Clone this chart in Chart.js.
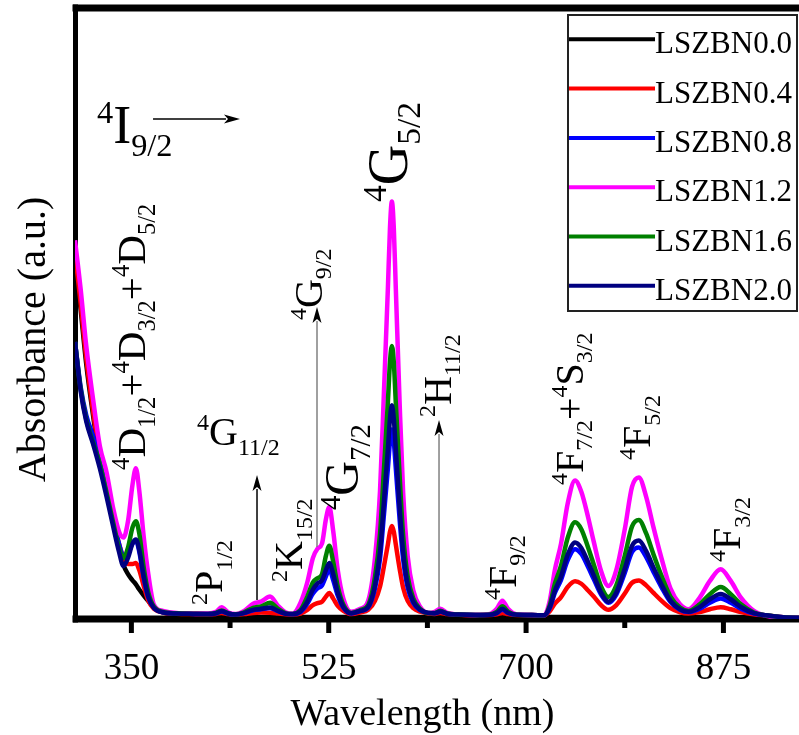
<!DOCTYPE html>
<html>
<head>
<meta charset="utf-8">
<script src="https://cdn.jsdelivr.net/npm/chart.js@4.4.1/dist/chart.umd.min.js"></script>
<style>
html,body{margin:0;padding:0;background:#fff;overflow:hidden;}
canvas{display:block;}
</style>
</head>
<body>
<canvas id="c" width="812" height="735"></canvas>
<script>
// ---------- DATA ----------
const wavelength = [
  300,305,310,316,322,328,334,339,343,347,351,354,357,361,365,370,378,390,
  405,418,425,430,436,442,450,458,465,473,480,487,493,
  500,506,511,515,519,522.5,525.5,529,533,538,545,
  553,560,566,570.5,574,577.5,579.3,581,582.7,584.5,588,591,595,600,606,613,
  619,624,630,640,655,668,674,679,684,692,705,
  716,721,725.5,731,737,743.4,749,755,760,766.5,773,780,787.5,794,800,806.5,813,820,828,836.5,844,854,863,872.6,881.5,890.5,902,913,925,937,950
];
const lszbn00 = [
  1.78,1.52,1.25,1.00,0.78,0.62,0.47,0.35,0.265,0.22,0.19,0.17,0.145,0.115,0.088,0.058,0.032,0.02,
  0.012,0.01,0.01,0.01,0.01,0.01,0.01,0.01,0.01,0.01,0.01,0.01,0.01,
  0.01,0.01,0.01,0.01,0.01,0.01,0.01,0.01,0.01,0.01,0.01,
  0.01,0.01,0.01,0.01,0.01,0.01,0.01,0.01,0.01,0.01,0.01,0.01,0.01,0.01,0.01,0.01,
  0.01,0.01,0.01,0.01,0.01,0.01,0.01,0.01,0.01,0.01,0.01,
  0.01,0.01,0.01,0.01,0.01,0.01,0.01,0.01,0.01,0.01,0.01,0.01,0.01,0.01,0.01,0.01,0.01,0.01,0.01,0.01,0.01,0.01,0.01,0.01,0.01,0.01,0.008,0.006,0.005,0.004,0.004
];
const lszbn04 = [
  1.80,1.55,1.28,1.02,0.80,0.64,0.48,0.37,0.30,0.27,0.27,0.275,0.24,0.16,0.09,0.05,0.032,0.026,
  0.024,0.023,0.025,0.03,0.024,0.021,0.024,0.03,0.032,0.031,0.027,0.023,0.022,
  0.027,0.045,0.068,0.078,0.085,0.11,0.128,0.10,0.065,0.04,0.024,
  0.032,0.045,0.09,0.16,0.26,0.368,0.429,0.457,0.429,0.365,0.243,0.154,0.089,0.053,0.036,0.028,
  0.025,0.03,0.024,0.021,0.02,0.02,0.023,0.03,0.024,0.02,0.02,
  0.018,0.038,0.075,0.108,0.158,0.185,0.173,0.14,0.11,0.068,0.045,0.068,0.125,0.178,0.189,0.165,0.128,0.09,0.053,0.033,0.027,0.034,0.048,0.058,0.048,0.034,0.023,0.017,0.01,0.006,0.005
];
const lszbn08 = [
  1.36,1.14,1.00,0.90,0.79,0.66,0.50,0.37,0.31,0.32,0.37,0.385,0.33,0.20,0.105,0.055,0.033,0.027,
  0.025,0.024,0.028,0.037,0.026,0.022,0.029,0.043,0.048,0.054,0.038,0.025,0.023,
  0.035,0.075,0.125,0.15,0.165,0.21,0.245,0.19,0.115,0.055,0.027,
  0.039,0.057,0.15,0.297,0.515,0.742,0.871,0.93,0.871,0.738,0.479,0.293,0.155,0.079,0.043,0.03,
  0.028,0.036,0.026,0.022,0.02,0.021,0.029,0.046,0.03,0.021,0.02,
  0.018,0.054,0.128,0.192,0.29,0.343,0.319,0.255,0.196,0.12,0.08,0.12,0.226,0.329,0.351,0.304,0.231,0.157,0.084,0.045,0.034,0.051,0.08,0.101,0.08,0.051,0.027,0.018,0.01,0.006,0.005
];
const lszbn12 = [
  1.86,1.62,1.34,1.08,0.85,0.72,0.54,0.43,0.40,0.48,0.66,0.74,0.63,0.40,0.22,0.07,0.04,0.03,
  0.028,0.027,0.035,0.058,0.032,0.024,0.04,0.075,0.085,0.11,0.065,0.032,0.026,
  0.08,0.18,0.30,0.345,0.37,0.49,0.55,0.43,0.24,0.10,0.035,
  0.05,0.09,0.30,0.63,1.12,1.63,1.92,2.05,1.92,1.62,1.04,0.62,0.31,0.14,0.06,0.03,
  0.035,0.05,0.03,0.022,0.02,0.025,0.05,0.09,0.05,0.022,0.02,
  0.018,0.09,0.24,0.37,0.57,0.68,0.625,0.50,0.38,0.236,0.162,0.24,0.44,0.65,0.695,0.60,0.45,0.30,0.15,0.072,0.048,0.105,0.187,0.244,0.187,0.105,0.04,0.016,0.01,0.006,0.005
];
const lszbn16 = [
  1.36,1.13,0.98,0.87,0.76,0.62,0.47,0.35,0.30,0.35,0.45,0.48,0.42,0.25,0.13,0.06,0.035,0.028,
  0.026,0.025,0.03,0.042,0.028,0.023,0.033,0.055,0.062,0.08,0.05,0.028,0.025,
  0.045,0.11,0.18,0.20,0.22,0.31,0.36,0.28,0.16,0.07,0.03,
  0.044,0.069,0.206,0.42,0.74,1.07,1.26,1.34,1.26,1.06,0.69,0.41,0.21,0.10,0.05,0.03,
  0.03,0.04,0.027,0.022,0.02,0.022,0.035,0.062,0.036,0.021,0.02,
  0.018,0.068,0.172,0.262,0.40,0.475,0.441,0.351,0.268,0.16,0.108,0.165,0.31,0.455,0.486,0.42,0.317,0.213,0.11,0.056,0.039,0.072,0.122,0.157,0.122,0.072,0.032,0.018,0.01,0.006,0.005
];
const lszbn20 = [
  1.36,1.12,0.97,0.86,0.74,0.60,0.45,0.33,0.26,0.30,0.37,0.39,0.34,0.21,0.11,0.055,0.033,0.027,
  0.025,0.024,0.028,0.038,0.027,0.022,0.03,0.045,0.05,0.057,0.04,0.026,0.024,
  0.038,0.085,0.145,0.175,0.19,0.24,0.275,0.22,0.13,0.06,0.028,
  0.04,0.06,0.166,0.333,0.58,0.838,0.984,1.05,0.984,0.833,0.54,0.328,0.171,0.086,0.045,0.03,
  0.028,0.037,0.026,0.022,0.02,0.021,0.03,0.05,0.031,0.021,0.02,
  0.018,0.058,0.139,0.209,0.317,0.376,0.349,0.279,0.214,0.13,0.085,0.13,0.247,0.36,0.385,0.333,0.252,0.171,0.09,0.048,0.035,0.059,0.097,0.123,0.097,0.059,0.029,0.018,0.01,0.006,0.005
];
const seriesNames = ['LSZBN0.0','LSZBN0.4','LSZBN0.8','LSZBN1.2','LSZBN1.6','LSZBN2.0'];
const seriesValues = [lszbn00, lszbn04, lszbn08, lszbn12, lszbn16, lszbn20];
const seriesColors = ['#000000','#ff0000','#0000ff','#ff00ff','#008000','#000080'];
const xTickValues = [350, 437.5, 525, 612.5, 700, 787.5, 875];
const xTickLabels = ['350', '', '525', '', '700', '', '875'];
const xTitle = 'Wavelength (nm)';
const yTitle = 'Absorbance (a.u.)';

// transition labels (anchor in data units: wavelength, absorbance)
const annotations = [
  { parts: [['4','sup'],['I','main'],['9/2','sub']], x: 319.5, y: 2.337, size: 54, rotate: false },
  { parts: [['4','sup'],['D','main'],['1/2','sub'],['+','main'],['4','sup'],['D','main'],['3/2','sub'],['+','main'],['4','sup'],['D','main'],['5/2','sub']], x: 362.1, y: 0.732, size: 41, rotate: true },
  { parts: [['4','sup'],['G','main'],['11/2','sub']], x: 408.2, y: 0.854, size: 40, rotate: false },
  { parts: [['2','sup'],['P','main'],['1/2','sub']], x: 430.4, y: 0.069, size: 40, rotate: true },
  { parts: [['2','sup'],['K','main'],['15/2','sub']], x: 501.3, y: 0.182, size: 40, rotate: true },
  { parts: [['4','sup'],['G','main'],['7/2','sub']], x: 551, y: 0.535, size: 48, rotate: true },
  { parts: [['4','sup'],['G','main'],['9/2','sub']], x: 518.6, y: 1.468, size: 40, rotate: true },
  { parts: [['4','sup'],['G','main'],['5/2','sub']], x: 594.4, y: 2.047, size: 56, rotate: true },
  { parts: [['2','sup'],['H','main'],['11/2','sub']], x: 633.1, y: 0.992, size: 40, rotate: true },
  { parts: [['4','sup'],['F','main'],['9/2','sub']], x: 690.7, y: 0.093, size: 40, rotate: true },
  { parts: [['4','sup'],['F','main'],['7/2','sub'],['+','main'],['4','sup'],['S','main'],['3/2','sub']], x: 750.2, y: 0.658, size: 40, rotate: true },
  { parts: [['4','sup'],['F','main'],['5/2','sub']], x: 809.9, y: 0.781, size: 40, rotate: true },
  { parts: [['4','sup'],['F','main'],['3/2','sub']], x: 889.7, y: 0.28, size: 40, rotate: true }
];
const arrows = [
  { x1: 369.2, y1: 2.455, x2: 446.3, y2: 2.455, line: '#000', head: '#000' },
  { x1: 461.4, y1: 0.093, x2: 461.4, y2: 0.707, line: '#000', head: '#000' },
  { x1: 514.6, y1: 0.354, x2: 514.6, y2: 1.532, line: '#808080', head: '#000' },
  { x1: 622.8, y1: 0.059, x2: 622.8, y2: 0.977, line: '#808080', head: '#000' }
];

// ---------- CHART ----------
const FONT = '"Liberation Serif", "Times New Roman", serif';
const datasets = seriesNames.map((name, k) => ({
  label: name,
  data: wavelength.map((w, i) => ({ x: w, y: seriesValues[k][i] })),
  borderColor: seriesColors[k],
  backgroundColor: seriesColors[k],
  borderWidth: 4.5,
  pointRadius: 0,
  fill: false,
  cubicInterpolationMode: 'monotone',
  order: seriesNames.length - k
}));

function drawRich(ctx, parts, size) {
  let x = 0;
  for (const [t, k] of parts) {
    const fs = k === 'main' ? size : size * 0.6;
    const dy = k === 'sup' ? -0.38 * size : (k === 'sub' ? 0.24 * size : 0);
    ctx.font = fs + 'px ' + FONT;
    ctx.fillText(t, x, dy);
    x += ctx.measureText(t).width;
  }
}

const deco = {
  id: 'deco',
  beforeDatasetsDraw(chart) {
    const ctx = chart.ctx, a = chart.chartArea, xs = chart.scales.x;
    ctx.save();
    ctx.strokeStyle = '#000';
    ctx.lineCap = 'butt';
    xTickValues.forEach((v, i) => {
      const px = xs.getPixelForValue(v);
      ctx.lineWidth = 5;
      ctx.beginPath();
      ctx.moveTo(px, a.bottom);
      ctx.lineTo(px, a.bottom + (xTickLabels[i] ? 14 : 9));
      ctx.stroke();
    });
    ctx.lineWidth = 7;
    ctx.beginPath(); ctx.moveTo(a.left - 2.5, a.top); ctx.lineTo(a.right + 3, a.top); ctx.stroke();
    ctx.beginPath(); ctx.moveTo(a.left - 2.5, a.bottom); ctx.lineTo(a.right + 3, a.bottom); ctx.stroke();
    ctx.lineWidth = 5;
    ctx.beginPath(); ctx.moveTo(a.left + 0.5, a.top - 3.5); ctx.lineTo(a.left + 0.5, a.bottom + 3.5); ctx.stroke();
    ctx.beginPath(); ctx.moveTo(a.right, a.top - 3.5); ctx.lineTo(a.right, a.bottom + 3.5); ctx.stroke();
    ctx.restore();
  },
  afterDatasetsDraw(chart) {
    const ctx = chart.ctx, xs = chart.scales.x, ys = chart.scales.y;
    ctx.save();
    arrows.forEach(ar => {
      const x1 = xs.getPixelForValue(ar.x1), y1 = ys.getPixelForValue(ar.y1);
      const x2 = xs.getPixelForValue(ar.x2), y2 = ys.getPixelForValue(ar.y2);
      const ang = Math.atan2(y2 - y1, x2 - x1);
      const hl = 16, hw = 4.5;
      ctx.strokeStyle = ar.line; ctx.lineWidth = 1.5;
      ctx.beginPath(); ctx.moveTo(x1, y1);
      ctx.lineTo(x2 - Math.cos(ang) * (hl - 2), y2 - Math.sin(ang) * (hl - 2)); ctx.stroke();
      ctx.fillStyle = ar.head;
      ctx.beginPath();
      ctx.moveTo(x2, y2);
      ctx.lineTo(x2 - Math.cos(ang) * hl - Math.sin(ang) * hw, y2 - Math.sin(ang) * hl + Math.cos(ang) * hw);
      ctx.lineTo(x2 - Math.cos(ang) * hl * 0.75, y2 - Math.sin(ang) * hl * 0.75);
      ctx.lineTo(x2 - Math.cos(ang) * hl + Math.sin(ang) * hw, y2 - Math.sin(ang) * hl - Math.cos(ang) * hw);
      ctx.closePath(); ctx.fill();
    });
    ctx.fillStyle = '#000';
    ctx.textBaseline = 'alphabetic';
    ctx.textAlign = 'left';
    annotations.forEach(an => {
      ctx.save();
      ctx.translate(xs.getPixelForValue(an.x), ys.getPixelForValue(an.y));
      if (an.rotate) ctx.rotate(-Math.PI / 2);
      drawRich(ctx, an.parts, an.size);
      ctx.restore();
    });
    ctx.font = '38px ' + FONT;
    ctx.textAlign = 'center';
    ctx.fillText(xTitle, 422.5, 725);
    ctx.save();
    ctx.translate(45, 339.5);
    ctx.rotate(-Math.PI / 2);
    ctx.font = '40px ' + FONT;
    ctx.fillText(yTitle, 0, 0);
    ctx.restore();
    const lx = 568, ly = 15, lw = 229, lh = 296;
    ctx.fillStyle = '#fff';
    ctx.fillRect(lx, ly, lw, lh);
    ctx.strokeStyle = '#222'; ctx.lineWidth = 2;
    ctx.strokeRect(lx, ly, lw, lh);
    ctx.font = '31px ' + FONT;
    ctx.textAlign = 'left';
    chart.data.datasets.forEach((ds, i) => {
      const yy = 39.3 + i * 49.3;
      ctx.strokeStyle = ds.borderColor; ctx.lineWidth = 4;
      ctx.beginPath(); ctx.moveTo(lx + 1, yy); ctx.lineTo(lx + 87, yy); ctx.stroke();
      ctx.fillStyle = '#000';
      ctx.fillText(ds.label, lx + 87, yy + 14);
    });
    ctx.restore();
  }
};

new Chart(document.getElementById('c'), {
  type: 'line',
  data: { datasets },
  options: {
    responsive: false,
    animation: false,
    devicePixelRatio: 1,
    layout: { padding: { top: 8, right: 4, left: 0, bottom: 0 } },
    plugins: { legend: { display: false }, tooltip: { enabled: false } },
    scales: {
      x: {
        type: 'linear', min: 300, max: 950,
        afterBuildTicks: s => { s.ticks = xTickValues.map(v => ({ value: v })); },
        afterFit: s => { s.height = 116; },
        grid: { display: false },
        border: { display: false },
        ticks: {
          autoSkip: false, maxRotation: 0, padding: 20, color: '#000',
          font: { family: FONT, size: 37 },
          callback: (v, i) => xTickLabels[i]
        }
      },
      y: {
        min: 0, max: 3.0,
        afterFit: s => { s.width = 75; },
        grid: { display: false },
        border: { display: false },
        ticks: { display: false }
      }
    }
  },
  plugins: [deco]
});
</script>
</body>
</html>
